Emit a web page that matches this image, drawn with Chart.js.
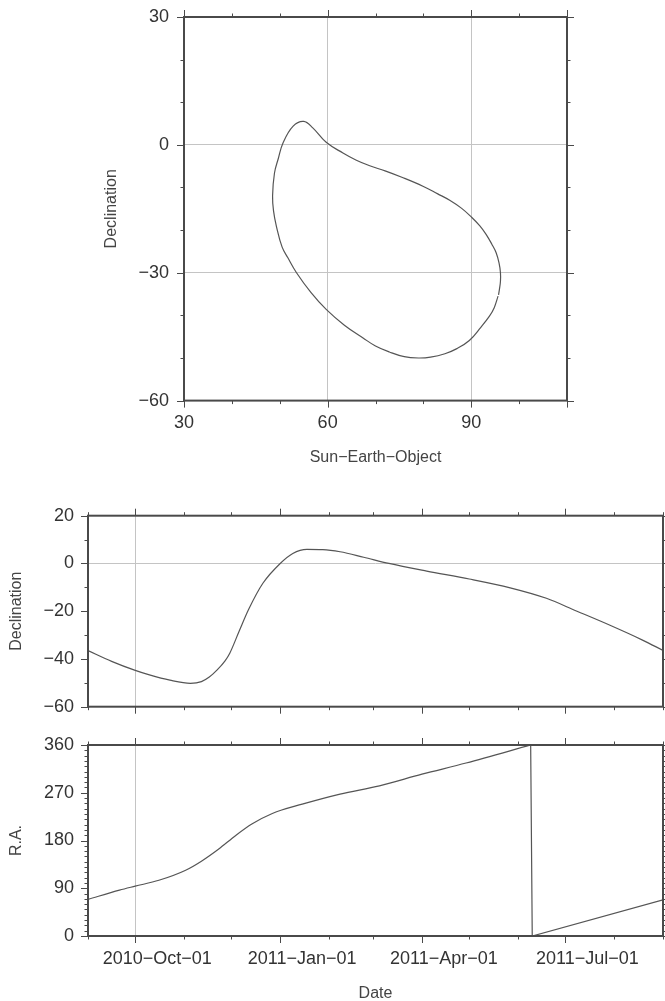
<!DOCTYPE html>
<html>
<head>
<meta charset="utf-8">
<script src="https://cdn.jsdelivr.net/npm/chart.js@4.4.1/dist/chart.umd.min.js"></script>
<style>
  html, body { margin: 0; padding: 0; background: #fff; overflow: hidden; }
  canvas { position: absolute; left: 0; }
</style>
</head>
<body>
<canvas id="loopChart" width="665" height="480" style="top:0px"></canvas>
<canvas id="decChart" width="665" height="250" style="top:480px"></canvas>
<canvas id="raChart" width="665" height="280" style="top:730px"></canvas>
<script>
// Sun-Earth-Object angle against declination, in time order
const loopElongation = [95.6, 94.8, 93.8, 92.0, 89.6, 87.0, 84.5, 81.5, 79.0, 76.0, 72.9, 70.0, 67.4, 63.5,
  59.7, 56.5, 53.5, 51.7, 50.5, 49.3, 48.7, 48.5, 48.9, 49.7, 50.7, 52.8, 55.0, 56.9, 59.7, 63.2, 66.0,
  68.8, 72.0, 75.5, 79.9, 83.0, 85.5, 88.0, 90.0, 91.8, 93.1, 94.3, 95.2, 95.8, 96.1, 96.1, 95.9, 95.7];
const loopDeclination = [-35.5, -38.2, -40.2, -42.8, -45.9, -47.8, -49.0, -49.8, -50.0, -49.7, -48.6, -47.2,
  -45.3, -42.3, -38.6, -34.6, -30.0, -26.5, -24.0, -19.1, -15.5, -12.0, -6.6, -3.2, 0.5, 4.4, 5.5, 4.0, 0.6,
  -1.9, -3.6, -4.9, -6.1, -7.6, -9.7, -11.5, -13.0, -14.9, -16.9, -19.0, -21.0, -23.3, -25.3, -27.7, -30.0,
  -32.0, -33.8, -35.2];

// declination over time
const decDates = ['2010-09-01', '2010-09-16', '2010-10-01', '2010-10-10', '2010-10-23', '2010-11-05',
  '2010-11-12', '2010-11-17', '2010-11-22', '2010-11-27', '2010-11-30', '2010-12-06', '2010-12-12',
  '2010-12-21', '2011-01-01', '2011-01-09', '2011-01-18', '2011-01-28',
  '2011-02-08', '2011-02-23', '2011-03-11', '2011-04-04', '2011-05-01', '2011-05-27', '2011-06-19',
  '2011-07-08', '2011-07-29', '2011-08-19', '2011-09-01'];
const declination = [-36.5, -41.0, -44.8, -46.7, -48.9, -50.2, -49.5, -47.6, -44.6, -40.8, -37.6, -28.3,
  -19.2, -8.3, 0.0, 4.2, 5.9, 5.8, 4.9, 2.6, 0.0, -3.2, -6.5, -10.2, -14.6, -19.9, -25.8,
  -32.1, -36.4];

// right ascension over time (wraps from 360 to 0)
const raDates = ['2010-09-01', '2010-09-21', '2010-10-01', '2010-10-16', '2010-11-02', '2010-11-12',
  '2010-11-23', '2010-12-04', '2010-12-14', '2010-12-27', '2011-01-15', '2011-02-08', '2011-03-05',
  '2011-04-01', '2011-04-29', '2011-06-09', '2011-06-10', '2011-09-01'];
const rightAscension = [69, 86.5, 94, 105, 124, 141, 164, 190, 211, 231, 248.5, 267.5, 283, 305, 326, 360, 0, 68];

const dateTicks = ['2010-10-01', '2011-01-01', '2011-04-01', '2011-07-01'];
const dateTickLabels = ['2010\u2212Oct\u221201', '2011\u2212Jan\u221201', '2011\u2212Apr\u221201', '2011\u2212Jul\u221201'];
const monthTicks = ['2010-09-01', '2010-10-01', '2010-11-01', '2010-12-01', '2011-01-01', '2011-02-01',
  '2011-03-01', '2011-04-01', '2011-05-01', '2011-06-01', '2011-07-01', '2011-08-01', '2011-09-01'];

const START = Date.UTC(2010, 8, 1);
function dayOf(s) {
    const [y, m, d] = s.split('-').map(Number);
    return (Date.UTC(y, m - 1, d) - START) / 86400000;
}
function range(a, b, step) {
    const out = [];
    for (let v = a; v <= b + 1e-9; v += step) out.push(v);
    return out;
}

const FONT = "'Liberation Sans', Arial, Helvetica, sans-serif";
const LINE = '#555';
const GRID = '#c4c4c4';
const CLEAR = 'rgba(0,0,0,0)';
Chart.defaults.font.family = FONT;
Chart.defaults.color = '#333';
Chart.defaults.animation = false;

const minus = v => String(v).replace('-', '\u2212');

// keep label overhang from pushing the plot area around
const fixWidth = w => s => { s.width = w; s.paddingTop = 0; s.paddingBottom = 0; };
const fixHeight = h => s => { s.height = h; s.paddingLeft = 0; s.paddingRight = 0; };

// frame and outward ticks on all four sides
const gmtFrame = {
    id: 'gmtFrame',
    afterDraw(chart, args, opts) {
        const { ctx, chartArea: a, scales: { x, y } } = chart;
        ctx.save();
        ctx.strokeStyle = '#4a4a4a';
        ctx.lineWidth = 1;
        ctx.beginPath();
        const vTicks = (vals, len) => vals.forEach(v => {
            const px = Math.round(x.getPixelForValue(v)) + 0.5;
            ctx.moveTo(px, a.top); ctx.lineTo(px, a.top - len);
            ctx.moveTo(px, a.bottom); ctx.lineTo(px, a.bottom + len);
        });
        const hTicks = (vals, len) => vals.forEach(v => {
            const py = Math.round(y.getPixelForValue(v)) + 0.5;
            ctx.moveTo(a.left, py); ctx.lineTo(a.left - len, py);
            ctx.moveTo(a.right, py); ctx.lineTo(a.right + len, py);
        });
        vTicks(opts.xMajor, 7);
        vTicks(opts.xMinor, 3.5);
        hTicks(opts.yMajor, 7);
        hTicks(opts.yMinor, 3.5);
        ctx.stroke();
        ctx.lineWidth = 2;
        ctx.strokeRect(a.left, a.top, a.right - a.left, a.bottom - a.top);
        ctx.restore();
    }
};

const tickFont = { size: 18, family: FONT };
const titleFont = { size: 16, family: FONT };

// top: Sun-Earth-Object vs declination
new Chart(document.getElementById('loopChart'), {
    type: 'scatter',
    data: {
        datasets: [{
            data: loopElongation.map((e, i) => ({ x: e, y: loopDeclination[i] })),
            showLine: true,
            borderColor: LINE,
            borderWidth: 1.2,
            pointRadius: 0,
            tension: 0.4
        }]
    },
    options: {
        responsive: false,
        layout: { padding: { top: 17, left: 98.4, right: 98, bottom: 8.4 } },
        plugins: {
            legend: { display: false },
            tooltip: { enabled: false },
            gmtFrame: { xMajor: [30, 60, 90, 110], xMinor: range(30, 110, 10), yMajor: [-60, -30, 0, 30], yMinor: range(-60, 30, 10) }
        },
        scales: {
            x: {
                type: 'linear', min: 30, max: 110,
                afterBuildTicks: s => { s.ticks = [30, 60, 90].map(v => ({ value: v })); },
                afterFit: fixHeight(71),
                ticks: { font: tickFont, padding: 11.5, autoSkip: false, maxRotation: 0 },
                grid: { color: GRID, drawTicks: false },
                border: { display: false },
                title: { display: true, text: 'Sun\u2212Earth\u2212Object', font: titleFont, color: '#444' }
            },
            y: {
                min: -60, max: 30,
                afterBuildTicks: s => { s.ticks = [-60, -30, 0, 30].map(v => ({ value: v })); },
                afterFit: fixWidth(184 - 98.4),
                ticks: { font: tickFont, padding: 15, callback: minus },
                grid: { color: GRID, drawTicks: false },
                border: { display: false },
                title: { display: true, text: 'Declination', font: titleFont, color: '#444' }
            }
        }
    },
    plugins: [gmtFrame]
});

const octGrid = c => (c.tick && c.tick.value === dayOf('2010-10-01')) ? GRID : CLEAR;
const dateX = (showLabels, height) => ({
    type: 'linear', min: 0, max: dayOf('2011-09-01'),
    afterBuildTicks: s => { s.ticks = dateTicks.map(d => ({ value: dayOf(d) })); },
    afterFit: fixHeight(height),
    ticks: {
        display: showLabels, font: tickFont, padding: 12, labelOffset: 22,
        autoSkip: false, maxRotation: 0,
        callback: (v, i) => dateTickLabels[i]
    },
    grid: { color: octGrid, drawTicks: false },
    border: { display: false },
    title: { display: showLabels, text: 'Date', font: titleFont, color: '#444', padding: { top: 0, bottom: 6.5 } }
});

// middle: declination vs date
new Chart(document.getElementById('decChart'), {
    type: 'line',
    data: {
        datasets: [{
            data: decDates.map((d, i) => ({ x: dayOf(d), y: declination[i] })),
            borderColor: LINE,
            borderWidth: 1.2,
            pointRadius: 0,
            cubicInterpolationMode: 'monotone'
        }]
    },
    options: {
        responsive: false,
        layout: { padding: { top: 35.7, left: 3.4, right: 2, bottom: 0 } },
        plugins: {
            legend: { display: false },
            tooltip: { enabled: false },
            gmtFrame: { xMajor: dateTicks.map(dayOf), xMinor: monthTicks.map(dayOf), yMajor: range(-60, 20, 20), yMinor: range(-60, 20, 10) }
        },
        scales: {
            x: dateX(false, 250 - 226.7),
            y: {
                min: -60, max: 20,
                afterBuildTicks: s => { s.ticks = range(-60, 20, 20).map(v => ({ value: v })); },
                afterFit: fixWidth(88 - 3.4),
                ticks: { font: tickFont, padding: 14, callback: minus },
                grid: { color: c => (c.tick && c.tick.value === 0) ? GRID : CLEAR, drawTicks: false },
                border: { display: false },
                title: { display: true, text: 'Declination', font: titleFont, color: '#444' }
            }
        }
    },
    plugins: [gmtFrame]
});

// bottom: R.A. vs date, split where it wraps past 360
const raPoints = raDates.map((d, i) => ({ x: dayOf(d), y: rightAscension[i] }));
const wrap = rightAscension.findIndex((v, i) => i > 0 && v < rightAscension[i - 1]);
new Chart(document.getElementById('raChart'), {
    type: 'line',
    data: {
        datasets: [{
            data: raPoints.slice(0, wrap),
            borderColor: LINE, borderWidth: 1.2, pointRadius: 0,
            cubicInterpolationMode: 'monotone'
        }, {
            data: raPoints.slice(wrap - 1),
            borderColor: LINE, borderWidth: 1.2, pointRadius: 0,
            tension: 0
        }]
    },
    options: {
        responsive: false,
        layout: { padding: { top: 15, left: 3.4, right: 2, bottom: 0 } },
        plugins: {
            legend: { display: false },
            tooltip: { enabled: false },
            gmtFrame: { xMajor: dateTicks.map(dayOf), xMinor: monthTicks.map(dayOf), yMajor: range(0, 360, 90), yMinor: range(0, 360, 10) }
        },
        scales: {
            x: dateX(true, 280 - 206),
            y: {
                min: 0, max: 360,
                afterBuildTicks: s => { s.ticks = range(0, 360, 90).map(v => ({ value: v })); },
                afterFit: fixWidth(88 - 3.4),
                ticks: { font: tickFont, padding: 14 },
                grid: { color: CLEAR, drawTicks: false },
                border: { display: false },
                title: { display: true, text: 'R.A.', font: titleFont, color: '#444' }
            }
        }
    },
    plugins: [gmtFrame]
});
</script>
</body>
</html>
